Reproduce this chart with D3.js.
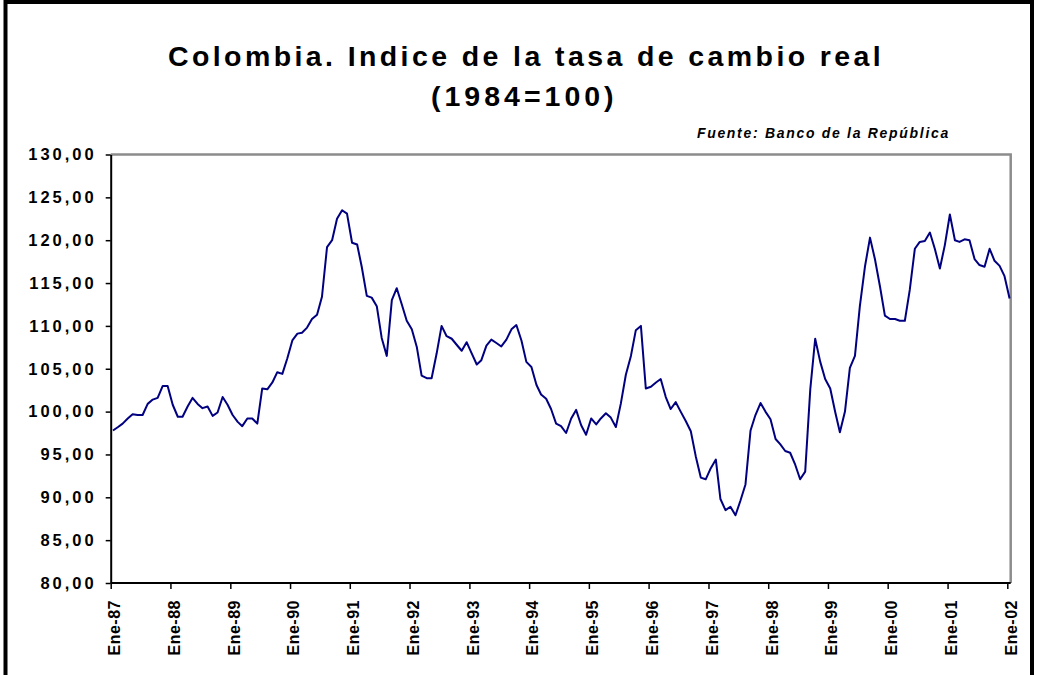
<!DOCTYPE html>
<html>
<head>
<meta charset="utf-8">
<script src="https://cdn.jsdelivr.net/npm/d3@7"></script>
<style>
  body { margin: 0; background: #fff; }
  text { font-family: "Liberation Sans", Arial, sans-serif; font-weight: bold; }
</style>
</head>
<body>
<div id="chart"></div>
<script>
// indice mensual de la tasa de cambio real, desde enero de 1987
const primerMes = new Date(1987, 0, 15);
const indice = [
  97.8, 98.2, 98.6, 99.2, 99.7, 99.6, 99.6, 100.9, 101.4, 101.6, 103.0, 103.0,      // 1987
  100.8, 99.4, 99.4, 100.6, 101.6, 100.9, 100.4, 100.6, 99.5, 99.9, 101.7, 100.8,  // 1988
  99.6, 98.8, 98.3, 99.2, 99.2, 98.6, 102.7, 102.6, 103.4, 104.6, 104.4, 106.2,    // 1989
  108.3, 109.1, 109.2, 109.8, 110.8, 111.3, 113.4, 119.2, 120.0, 122.5, 123.5, 123.1, // 1990
  119.7, 119.5, 116.9, 113.5, 113.3, 112.3, 108.6, 106.5, 113.0, 114.4, 112.5, 110.6, // 1991
  109.6, 107.5, 104.2, 103.9, 103.9, 106.8, 110.0, 108.8, 108.5, 107.8, 107.1, 108.1, // 1992
  106.8, 105.5, 106.0, 107.7, 108.4, 108.0, 107.6, 108.4, 109.6, 110.1, 108.3, 105.8, // 1993
  105.2, 103.1, 102.0, 101.5, 100.3, 98.6, 98.3, 97.5, 99.2, 100.2, 98.4, 97.3,     // 1994
  99.2, 98.5, 99.2, 99.8, 99.3, 98.2, 100.9, 104.3, 106.5, 109.5, 110.0, 102.7,     // 1995
  102.9, 103.4, 103.8, 101.7, 100.3, 101.1, 100.0, 98.9, 97.7, 94.8, 92.3, 92.1,    // 1996
  93.4, 94.4, 89.8, 88.5, 88.9, 87.9, 89.6, 91.5, 97.8, 99.6, 101.0, 100.0,         // 1997
  99.1, 96.8, 96.2, 95.4, 95.2, 93.8, 92.1, 93.0, 102.6, 108.5, 105.8, 103.8,       // 1998
  102.7, 99.9, 97.6, 100.0, 105.1, 106.5, 112.3, 116.9, 120.3, 117.8, 114.6, 111.2, // 1999
  110.8, 110.8, 110.6, 110.6, 114.2, 119.0, 119.8, 119.9, 120.9, 119.0, 116.7, 119.4, // 2000
  123.0, 120.0, 119.8, 120.1, 120.0, 117.8, 117.1, 116.9, 119.0, 117.6, 117.0, 115.8, // 2001
  113.2                                                                               // 2002
];
const anios = d3.range(1987, 2003);
const etiquetasX = anios.map(a => "Ene-" + String(a).slice(2));
const ticksY = d3.range(80, 131, 5);

const width = 1038, height = 675;
const plot = { left: 110.7, right: 1010.7, top: 154.5, bottom: 583 };

const datos = indice.map((v, i) => ({ fecha: d3.timeMonth.offset(primerMes, i), valor: v }));

const x = d3.scaleTime()
    .domain([new Date(1987, 0, 1), new Date(2002, 0, 1)])
    .range([plot.left, 1007.3]);

const y = d3.scaleLinear()
    .domain([80, 130])
    .range([plot.bottom, plot.top]);

const coma = d3.formatLocale({ decimal: ",", thousands: ".", grouping: [3], currency: ["$", ""] }).format(".2f");

const svg = d3.select("#chart")
    .append("svg")
    .attr("width", width)
    .attr("height", height);

svg.append("rect")
    .attr("width", width).attr("height", height)
    .attr("fill", "#fff");

// marco exterior
svg.append("rect")
    .attr("x", 5.5).attr("y", 2)
    .attr("width", 1026.5).attr("height", 720)
    .attr("fill", "none")
    .attr("stroke", "#000")
    .attr("stroke-width", 4);

// titulo
svg.append("text")
    .attr("x", 168).attr("y", 66)
    .style("font-size", "28.5px")
    .style("letter-spacing", "3.4px")
    .text("Colombia. Indice de la tasa de cambio real");

svg.append("text")
    .attr("x", 431).attr("y", 106)
    .style("font-size", "28.5px")
    .style("letter-spacing", "4px")
    .text("(1984=100)");

svg.append("text")
    .attr("x", 950).attr("y", 138)
    .attr("text-anchor", "end")
    .style("font-size", "14px")
    .style("font-style", "italic")
    .style("letter-spacing", "1.7px")
    .text("Fuente: Banco de la República");

// borde gris del area de trazado
svg.append("path")
    .attr("d", `M${plot.left},${plot.top}H${plot.right}V${plot.bottom}`)
    .attr("fill", "none")
    .attr("stroke", "#8c8c8c")
    .attr("stroke-width", 2.5);

const ejeY = svg.append("g")
    .attr("transform", `translate(${plot.left},0)`)
    .call(d3.axisLeft(y)
        .tickValues(ticksY)
        .tickSize(5)
        .tickSizeOuter(0)
        .tickPadding(9)
        .tickFormat(coma));

ejeY.select(".domain").attr("stroke-width", 2);
ejeY.selectAll(".tick line").attr("stroke-width", 1.5);
ejeY.selectAll(".tick text")
    .attr("fill", "#000")
    .style("font-size", "16.5px")
    .style("letter-spacing", "3px");

const ejeX = svg.append("g")
    .attr("transform", `translate(0,${plot.bottom})`)
    .call(d3.axisBottom(x)
        .tickValues(anios.map(a => new Date(a, 0, 1)))
        .tickSize(6)
        .tickSizeOuter(0)
        .tickFormat((d, i) => etiquetasX[i]));

ejeX.select(".domain")
    .attr("d", `M${plot.left},0H${plot.right}`)
    .attr("stroke-width", 2);
ejeX.selectAll(".tick line").attr("stroke-width", 1.5);
ejeX.selectAll(".tick text")
    .attr("fill", "#000")
    .attr("transform", "rotate(-90)")
    .attr("x", -17)
    .attr("y", 8.8)
    .attr("dy", null)
    .style("text-anchor", "end")
    .style("font-size", "16px")
    .style("letter-spacing", "0.5px");

const linea = d3.line()
    .x(d => x(d.fecha))
    .y(d => y(d.valor));

svg.append("path")
    .datum(datos)
    .attr("fill", "none")
    .attr("stroke", "#000080")
    .attr("stroke-width", 2)
    .attr("stroke-linejoin", "round")
    .attr("d", linea);
</script>
</body>
</html>
